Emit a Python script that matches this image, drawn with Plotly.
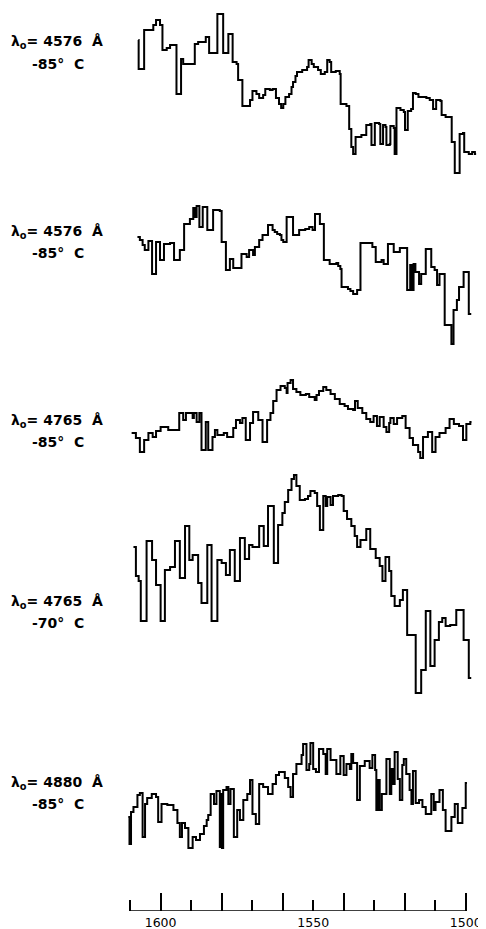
import plotly.graph_objects as go

# ---- data: wavenumber (cm^-1) of each step start, and relative intensity ----
wn_1 = [1607.3,1607.2,1605.4,1602.4,1601.5,1600.2,1599.4,1598.0,1596.9,1594.8,
        1593.3,1592.6,1588.8,1587.7,1585.2,1584.1,1581.4,1579.5,1577.8,1576.4,
        1575.1,1574.6,1573.2,1570.7,1569.9,1568.6,1567.7,1566.4,1565.7,1564.2,
        1563.3,1562.2,1561.2,1560.5,1559.8,1559.1,1557.9,1557.1,1556.6,1555.8,
        1555.3,1553.6,1552.0,1551.5,1550.5,1549.8,1548.4,1547.5,1546.2,1545.4,
        1544.6,1544.1,1542.6,1541.3,1541.0,1539.1,1538.2,1537.5,1536.9,1536.1,
        1534.2,1532.6,1531.3,1530.9,1529.8,1528.4,1528.0,1527.1,1526.3,1526.0,
        1524.9,1524.7,1523.6,1523.3,1522.7,1521.4,1520.3,1519.9,1519.0,1517.9,
        1517.3,1516.4,1515.5,1514.0,1512.9,1511.8,1510.7,1510.0,1509.7,1508.3,
        1507.9,1506.6,1505.1,1504.6,1503.6,1502.0,1500.9,1500.5,1499.0,1497.9,
        1497.0,1496.6]
int_1 = [137,108,147,152,157,152,127,129,132,83,
         118,113,133,135,140,124,163,124,143,115,
         113,97,71,77,86,83,79,82,88,87,
         88,79,73,69,73,80,83,90,95,101,
         105,107,110,117,113,110,107,103,105,117,
         115,105,106,103,73,71,48,30,23,40,
         42,52,53,32,54,53,33,52,50,32,
         33,51,49,23,69,67,65,47,66,68,
         84,83,80,80,79,77,68,68,77,76,
         62,60,60,35,4,43,44,25,23,25,
         23,23]

wn_2 = [1607.6,1606.8,1605.9,1605.2,1604.0,1602.8,1601.5,1600.2,1598.9,1596.9,
        1595.6,1593.7,1592.3,1590.4,1589.3,1588.8,1588.2,1587.3,1586.2,1584.7,
        1582.8,1580.6,1580.0,1578.6,1577.3,1576.2,1573.5,1571.8,1571.0,1569.7,
        1569.1,1567.7,1566.6,1564.8,1563.3,1562.6,1561.8,1560.9,1560.4,1559.8,
        1558.7,1556.6,1554.6,1552.6,1551.3,1550.2,1549.4,1547.8,1546.5,1544.6,
        1542.4,1541.8,1541.1,1540.7,1538.6,1537.8,1536.9,1535.6,1534.5,1530.6,
        1529.5,1527.6,1526.9,1525.5,1523.6,1521.6,1519.2,1518.2,1517.6,1517.1,
        1516.5,1515.3,1514.6,1513.1,1511.3,1510.2,1509.4,1508.6,1506.9,1504.7,
        1504.0,1502.9,1502.2,1500.7,1499.0,1498.2]
int_2 = [110,107,102,97,106,73,105,87,103,104,
         87,97,123,128,139,130,141,120,140,117,
         137,136,105,77,88,79,93,90,97,92,
         100,107,112,122,117,115,113,112,107,105,
         130,112,117,118,120,117,133,123,87,83,
         84,81,78,60,58,56,53,57,104,100,
         85,87,83,103,95,99,57,82,57,83,
         75,63,73,98,80,77,62,73,22,3,
         37,47,60,75,33,33]

wn_3 = [1609.5,1608.1,1606.8,1605.4,1604.0,1602.6,1601.5,1600.0,1597.5,1593.9,
        1592.6,1591.7,1589.5,1589.1,1588.2,1587.3,1586.6,1585.2,1584.4,1583.0,
        1582.2,1581.4,1579.3,1578.2,1576.2,1575.3,1574.0,1573.2,1572.1,1570.7,
        1569.7,1568.0,1566.6,1565.1,1564.0,1563.1,1562.0,1560.7,1559.3,1558.7,
        1558.4,1557.4,1556.6,1555.5,1554.2,1552.4,1551.3,1549.5,1548.9,1548.1,
        1546.7,1545.7,1544.3,1542.9,1541.3,1539.7,1538.6,1536.9,1536.3,1535.4,
        1533.9,1532.6,1531.3,1530.2,1529.1,1528.2,1526.9,1526.0,1525.1,1524.7,
        1523.6,1522.5,1520.8,1519.7,1518.4,1517.3,1515.6,1514.9,1514.0,1512.4,
        1511.0,1509.9,1508.6,1506.6,1505.3,1503.9,1502.2,1500.9,1499.8,1498.5,
        1498.1]
int_3 = [27,22,8,20,27,23,29,33,30,47,
         40,47,42,47,38,47,10,38,10,23,
         30,25,27,23,32,40,37,42,20,37,
         48,40,18,40,47,59,70,74,72,67,
         77,80,71,68,65,66,63,60,65,69,
         73,70,66,61,56,54,51,50,59,52,
         47,41,38,44,34,43,33,28,37,42,
         36,42,44,32,22,15,8,2,23,28,
         8,23,27,32,41,36,34,20,36,38,
         38]

wn_4 = [1608.9,1608.1,1607.2,1606.5,1604.6,1602.8,1601.5,1600.0,1598.6,1596.9,
        1595.3,1593.7,1592.0,1590.6,1589.5,1587.7,1586.6,1584.7,1583.3,1581.4,
        1580.0,1578.6,1577.3,1575.7,1574.0,1572.4,1571.0,1569.9,1567.7,1566.2,
        1564.8,1562.9,1561.5,1560.1,1559.3,1558.2,1557.1,1556.3,1555.5,1554.4,
        1552.7,1551.7,1550.9,1549.5,1548.7,1547.8,1546.7,1545.9,1545.4,1544.3,
        1543.5,1541.8,1540.7,1540.0,1538.9,1537.5,1536.4,1535.6,1534.5,1532.6,
        1531.3,1529.5,1528.2,1527.3,1526.3,1525.1,1524.4,1523.3,1521.6,1520.6,
        1519.2,1516.4,1514.6,1513.1,1511.6,1510.2,1508.8,1507.7,1506.6,1505.1,
        1503.1,1500.7,1499.0,1498.2]
int_4 = [146,117,112,72,152,133,108,72,123,126,
         152,115,167,133,138,110,90,148,72,133,
         130,118,143,112,155,134,148,146,167,147,
         187,130,168,180,191,203,214,218,207,193,
         194,197,202,200,187,163,197,187,196,188,
         197,198,197,182,174,167,157,146,153,164,
         144,135,127,112,136,122,97,87,93,103,
         58,0,23,82,27,53,71,75,67,68,
         83,53,15,15]

wn_5 = [1610.6,1610.2,1609.7,1608.9,1607.6,1606.8,1605.9,1605.1,1604.4,1602.9,
        1601.5,1600.8,1599.7,1597.8,1595.8,1594.5,1593.7,1593.0,1592.0,1590.9,
        1589.5,1588.4,1587.1,1585.8,1584.9,1584.4,1583.6,1582.5,1581.7,1580.6,
        1580.1,1579.9,1579.5,1578.4,1577.8,1577.1,1576.0,1574.9,1574.0,1572.9,
        1571.6,1570.7,1569.9,1568.8,1567.7,1566.4,1564.8,1563.3,1562.2,1561.2,
        1559.3,1558.2,1557.4,1556.6,1555.5,1553.8,1553.3,1552.2,1551.3,1550.9,
        1550.0,1549.1,1548.1,1546.7,1545.9,1545.4,1544.3,1542.4,1541.1,1540.0,
        1539.1,1538.0,1537.5,1536.9,1535.6,1534.7,1533.1,1531.5,1530.6,1529.7,
        1529.3,1528.7,1528.2,1527.5,1526.0,1524.9,1524.4,1523.8,1523.3,1522.3,
        1521.6,1520.8,1520.3,1519.5,1518.4,1517.8,1517.3,1516.4,1515.3,1514.2,
        1513.1,1511.3,1510.5,1509.9,1508.6,1507.5,1506.6,1504.7,1503.6,1502.6,
        1501.1,1500.0,1499.6]
int_5 = [35,8,40,45,57,59,15,48,54,58,
         55,30,48,47,42,29,15,29,24,4,
         15,12,18,26,32,37,58,48,61,5,
         58,4,62,65,48,63,15,42,32,52,
         58,72,38,28,68,65,58,68,77,80,
         74,65,55,78,88,97,108,82,88,109,
         83,80,103,98,78,103,92,78,96,77,
         88,83,98,89,52,86,91,84,97,82,
         42,72,42,58,93,58,83,68,100,73,
         52,87,93,78,62,48,81,49,52,45,
         38,58,42,50,62,42,21,35,48,29,
         44,69,69]

excitation = ["4576", "4576", "4765", "4765", "4880"]
temperature = ["-85", "-85", "-85", "-70", "-85"]

tick_major = [1600, 1580, 1560, 1540, 1520, 1500]
tick_minor = [1610, 1590, 1570, 1550, 1530, 1510]
tick_labels = [1600, 1550, 1500]

# ---- layout helpers (page pixels; the page body adds an 8px offset) ----
BODY = 8
panel_offsets = [734, 564, 451, 218, 59]
label_rows = [(42, 64), (232, 253), (421, 442), (602, 623), (783, 804)]

W, H = 486 - BODY, 929 - BODY
ML, MR, MT, MB = 124 - BODY, 5, 0, 18
PW, PH = W - ML - MR, H - MT - MB

def px_x(px):
    return (px - BODY - ML) / PW

def px_y(py):
    return (H - MB - (py - BODY)) / PH

series = [(wn_1, int_1), (wn_2, int_2), (wn_3, int_3), (wn_4, int_4), (wn_5, int_5)]

fig = go.Figure()
for (wn, inten), off in zip(series, panel_offsets):
    fig.add_trace(go.Scatter(
        x=wn, y=[off + v for v in inten], mode="lines",
        line=dict(color="black", width=2, shape="hv"),
        hoverinfo="skip", showlegend=False))

# invisible trace to host the label axis
fig.add_trace(go.Scatter(x=tick_labels, y=[None] * len(tick_labels), xaxis="x2",
                         mode="lines", showlegend=False, hoverinfo="skip"))

annotations = []
nb = "\u00a0"
lab_font = dict(family="DejaVu Sans", size=14, color="black")
for (r1, r2), lam, temp in zip(label_rows, excitation, temperature):
    annotations.append(dict(
        text=f"<b>λ<sub>o</sub>= {lam}{nb}{nb}Å</b>", x=px_x(9), y=px_y(r1),
        xref="paper", yref="paper", xanchor="left", yanchor="middle",
        showarrow=False, font=lab_font))
    annotations.append(dict(
        text=f"<b>{temp}°{nb}{nb}C</b>", x=px_x(30), y=px_y(r2),
        xref="paper", yref="paper", xanchor="left", yanchor="middle",
        showarrow=False, font=lab_font))

fig.update_layout(
    width=W, height=H,
    margin=dict(l=ML, r=MR, t=MT, b=MB, pad=0),
    paper_bgcolor="white", plot_bgcolor="white",
    showlegend=False,
    xaxis=dict(range=[1612, 1495], showgrid=False, zeroline=False, showline=False,
               ticks="inside", tickvals=tick_major, ticklen=18, tickwidth=1.5,
               tickcolor="black", showticklabels=False,
               minor=dict(tickvals=tick_minor, ticks="inside", ticklen=11,
                          tickwidth=1.5, tickcolor="black", showgrid=False)),
    xaxis2=dict(range=[1612, 1495], overlaying="x", anchor="y", side="bottom",
                showgrid=False, zeroline=False, showline=False, ticks="",
                tickvals=tick_labels, ticktext=[str(t) for t in tick_labels],
                ticklabelstandoff=2,
                tickfont=dict(family="DejaVu Sans", size=12.5, color="black")),
    yaxis=dict(range=[0, PH], visible=False, fixedrange=True),
    annotations=annotations,
    shapes=[dict(type="line", xref="x", yref="y",
                 x0=max(tick_minor + tick_major), x1=min(tick_minor + tick_major),
                 y0=0, y1=0, line=dict(color="black", width=1.5))],
)

fig.write_html("out.html")
